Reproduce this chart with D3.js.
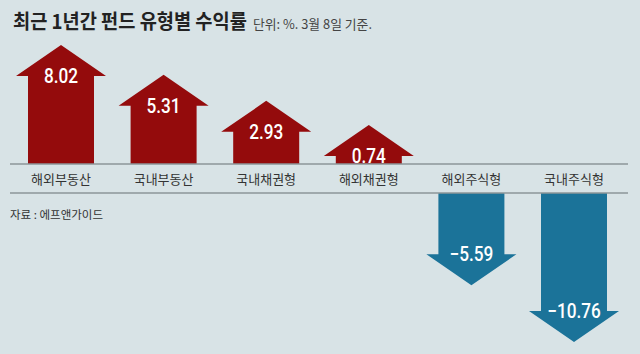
<!DOCTYPE html>
<html>
<head>
<meta charset="utf-8">
<script src="https://cdn.jsdelivr.net/npm/d3@7"></script>
<style>
  body { margin: 0; background: #d8e3e6; }
  svg { display: block; }
  .title { font-family: "Noto Sans CJK KR", sans-serif; font-weight: bold; font-size: 20px; fill: #222; }
  .sub { font-family: "Noto Sans CJK KR", sans-serif; font-size: 13px; fill: #444; }
  .cat { font-family: "Noto Sans CJK KR", sans-serif; font-size: 13px; fill: #333; }
  .val { font-family: "Roboto", sans-serif; font-weight: 500; font-size: 20px; fill: #fff; }
  .src { font-family: "Noto Sans CJK KR", sans-serif; font-size: 11.5px; fill: #333; }
</style>
</head>
<body>
<script>
//data
var categories = ["해외부동산", "국내부동산", "국내채권형", "해외채권형", "해외주식형", "국내주식형"];
var values = [8.02, 5.31, 2.93, 0.74, -5.59, -10.76];
var valueLabels = ["8.02", "5.31", "2.93", "0.74", "\u22125.59", "\u221210.76"];

var width = 640,
    height = 354;

var svg = d3.select("body")
    .append("svg")
    .attr("width", width)
    .attr("height", height);

//background
svg.append("rect")
    .attr("width", width)
    .attr("height", height)
    .attr("fill", "#d8e3e6");

//squeeze a text horizontally to a given width, anchored at x0
function fitWidth(sel, x0, w){
    var n = sel.node().getComputedTextLength();
    var k = Math.min(1, w / n);
    sel.attr("x", 0)
        .attr("transform", "translate(" + x0 + ",0) scale(" + k + ",1)");
}

//title
var title = svg.append("text")
    .attr("class", "title")
    .attr("y", 29)
    .text("최근 1년간 펀드 유형별 수익률");
fitWidth(title, 13, 234);

var sub = svg.append("text")
    .attr("class", "sub")
    .attr("y", 29)
    .text("단위: %. 3월 8일 기준.");
fitWidth(sub, 253, 119);

//scales
var x = d3.scalePoint()
    .domain(categories)
    .range([61, 574]);

var len = d3.scaleLinear()
    .domain([0, 10.76])
    .range([0, 118]);

var topLine = 164,
    bottomLine = 193,
    headH = 31,
    headW = 45,
    shaftW = 33;

//arrow shape
function arrow(d, i){
    var cx = x(categories[i]);
    var up = d >= 0;
    var y0 = up ? topLine : bottomLine;
    var dir = up ? -1 : 1;
    var hb = y0 + dir * len(Math.abs(d));
    var tip = hb + dir * headH;
    return "M" + (cx - shaftW) + "," + y0 +
        "L" + (cx - shaftW) + "," + hb +
        "L" + (cx - headW) + "," + hb +
        "L" + cx + "," + tip +
        "L" + (cx + headW) + "," + hb +
        "L" + (cx + shaftW) + "," + hb +
        "L" + (cx + shaftW) + "," + y0 + "Z";
}

svg.selectAll(".arrow")
    .data(values)
    .enter()
    .append("path")
    .attr("class", "arrow")
    .attr("d", arrow)
    .attr("fill", function(d){ return d >= 0 ? "#940b0c" : "#1b7399"; });

//value labels, squeezed to look condensed
svg.selectAll(".val")
    .data(values)
    .enter()
    .append("text")
    .attr("class", "val")
    .attr("text-anchor", "middle")
    .attr("x", function(d, i){ return x(categories[i]); })
    .attr("y", function(d){
        var y0 = d >= 0 ? topLine : bottomLine;
        var dir = d >= 0 ? -1 : 1;
        return y0 + dir * len(Math.abs(d)) + 7;
    })
    .text(function(d, i){ return valueLabels[i]; })
    .each(function(){
        var w = this.getComputedTextLength();
        d3.select(this)
            .attr("textLength", w * 0.86)
            .attr("lengthAdjust", "spacingAndGlyphs");
    });

//divider lines
svg.selectAll(".rule")
    .data([topLine, bottomLine])
    .enter()
    .append("line")
    .attr("x1", 10)
    .attr("x2", 628)
    .attr("y1", function(d){ return d; })
    .attr("y2", function(d){ return d; })
    .attr("stroke", "#8c9699")
    .attr("stroke-width", 1.5);

//category labels
svg.selectAll(".cat")
    .data(categories)
    .enter()
    .append("text")
    .attr("class", "cat")
    .attr("text-anchor", "middle")
    .attr("x", function(d){ return x(d); })
    .attr("y", 184)
    .text(function(d){ return d; });

//source
svg.append("text")
    .attr("class", "src")
    .attr("x", 10)
    .attr("y", 219)
    .text("자료 : 에프앤가이드");
</script>
</body>
</html>
